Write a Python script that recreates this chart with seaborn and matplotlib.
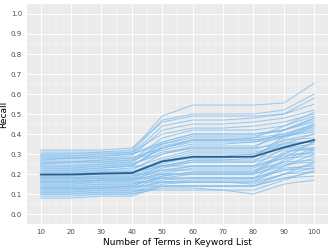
import numpy as np
import pandas as pd
import matplotlib
matplotlib.use("Agg")
import matplotlib.pyplot as plt
import seaborn as sns
from matplotlib.ticker import MultipleLocator

# number of terms kept in the keyword list
terms = [10, 20, 30, 40, 50, 60, 70, 80, 90, 100]

# recall of each keyword-list run (one row per run)
recall_runs = [
    [.30, .30, .31, .32, .49, .545, .545, .545, .555, .655],
    [.29, .29, .30, .31, .47, .50, .50, .50, .52, .60],
    [.32, .32, .32, .33, .46, .49, .49, .49, .50, .58],
    [.28, .28, .29, .30, .44, .47, .47, .48, .50, .55],
    [.27, .28, .28, .29, .42, .45, .45, .46, .48, .52],
    [.31, .31, .31, .31, .40, .43, .43, .44, .46, .50],
    [.25, .26, .26, .27, .38, .42, .42, .42, .44, .49],
    [.29, .29, .29, .30, .36, .40, .40, .40, .42, .47],
    [.24, .24, .25, .26, .35, .38, .38, .38, .40, .44],
    [.22, .22, .23, .24, .33, .37, .37, .37, .39, .43],
    [.30, .30, .30, .30, .35, .39, .39, .39, .42, .48],
    [.27, .27, .27, .28, .33, .37, .37, .38, .44, .51],
    [.26, .26, .27, .27, .32, .35, .35, .36, .40, .45],
    [.23, .23, .24, .25, .30, .34, .34, .34, .39, .42],
    [.21, .21, .22, .23, .28, .32, .32, .32, .37, .40],
    [.20, .20, .21, .21, .27, .31, .31, .31, .34, .37],
    [.19, .19, .20, .20, .26, .30, .30, .30, .35, .36],
    [.18, .18, .19, .19, .25, .29, .29, .30, .33, .33],
    [.17, .17, .18, .18, .24, .27, .27, .27, .32, .32],
    [.16, .16, .17, .17, .23, .26, .26, .26, .30, .30],
    [.15, .15, .16, .16, .21, .24, .24, .24, .29, .31],
    [.14, .14, .15, .15, .20, .23, .23, .23, .28, .29],
    [.13, .13, .14, .14, .19, .21, .21, .21, .26, .27],
    [.12, .12, .13, .13, .18, .20, .20, .20, .25, .26],
    [.11, .11, .12, .12, .17, .18, .18, .18, .23, .24],
    [.10, .10, .11, .11, .16, .17, .17, .17, .22, .23],
    [.09, .09, .10, .10, .15, .16, .16, .15, .20, .21],
    [.08, .08, .09, .09, .14, .14, .14, .14, .18, .19],
    [.20, .20, .20, .20, .20, .20, .20, .20, .30, .36],
    [.18, .18, .18, .18, .18, .18, .18, .18, .27, .33],
    [.16, .16, .16, .16, .16, .16, .16, .16, .24, .30],
    [.14, .14, .14, .14, .14, .14, .14, .14, .20, .26],
    [.12, .12, .12, .12, .12, .12, .12, .12, .17, .22],
    [.22, .22, .22, .22, .30, .33, .33, .33, .35, .40],
    [.24, .24, .24, .24, .34, .37, .37, .37, .39, .45],
    [.26, .26, .26, .26, .36, .40, .40, .40, .42, .48],
    [.28, .28, .28, .28, .33, .36, .36, .36, .38, .44],
    [.21, .21, .21, .21, .24, .24, .24, .24, .28, .36],
    [.19, .19, .19, .19, .22, .22, .22, .22, .26, .32],
    [.17, .17, .17, .17, .20, .20, .20, .20, .24, .28],
    [.15, .15, .15, .15, .18, .18, .18, .18, .22, .25],
    [.13, .13, .13, .13, .16, .16, .16, .16, .20, .23],
    [.11, .11, .11, .11, .14, .14, .14, .14, .18, .21],
    [.10, .10, .10, .10, .13, .13, .12, .10, .15, .17],
    [.23, .23, .23, .24, .24, .27, .27, .28, .39, .41],
    [.25, .25, .25, .25, .31, .33, .33, .33, .42, .46],
    [.20, .20, .21, .21, .26, .28, .28, .29, .37, .38],
    [.18, .18, .18, .18, .24, .26, .26, .26, .36, .36],
    [.16, .16, .17, .17, .22, .24, .24, .24, .33, .35],
    [.13, .13, .13, .14, .19, .21, .21, .21, .31, .33],
]

y_ticks = [0.0, 0.1, 0.2, 0.3, 0.4, 0.5, 0.6, 0.7, 0.8, 0.9, 1.0]

# long format for seaborn
df = pd.DataFrame(
    [(run, t, r) for run, row in enumerate(recall_runs) for t, r in zip(terms, row)],
    columns=["run", "terms", "recall"],
)

sns.set_theme(style="darkgrid", rc={
    "axes.facecolor": "#EBEBEB",
    "grid.color": "white",
    "axes.edgecolor": "#EBEBEB",
})
plt.rcParams["font.family"] = ["DejaVu Sans"]

fig = plt.figure(figsize=(3.32, 2.49), dpi=100)
ax = fig.add_axes([0.081, 0.100, 0.907, 0.884])

# individual runs
sns.lineplot(data=df, x="terms", y="recall", units="run", estimator=None,
             color="#7CBDF0", alpha=0.75, linewidth=0.75, ax=ax, legend=False)
# mean across runs
sns.lineplot(data=df, x="terms", y="recall", estimator="mean", errorbar=None,
             color="#2B5F8E", linewidth=1.3, ax=ax)

ax.set_xlim(5.5, 104.5)
ax.set_ylim(-0.05, 1.05)
ax.set_xticks(terms)
ax.set_yticks(y_ticks)
ax.set_yticklabels([f"{v:.1f}" for v in y_ticks])
ax.xaxis.set_minor_locator(MultipleLocator(5))
ax.yaxis.set_minor_locator(MultipleLocator(0.05))
ax.grid(which="major", color="white", linewidth=0.7)
ax.grid(which="minor", color="white", linewidth=0.35)
ax.set_axisbelow(True)
for s in ax.spines.values():
    s.set_visible(False)

ax.tick_params(axis="both", which="major", labelsize=5, labelcolor="#4D4D4D",
               length=2, width=0.5, color="#333333", pad=1.5)
ax.tick_params(axis="both", which="minor", length=0)

ax.set_xlabel("Number of Terms in Keyword List", fontsize=6.5, color="black", labelpad=2)
ax.set_ylabel("Recall", fontsize=6.5, color="black")
ax.yaxis.set_label_coords(-0.062, 0.5)

fig.savefig("out.png", dpi=100)
